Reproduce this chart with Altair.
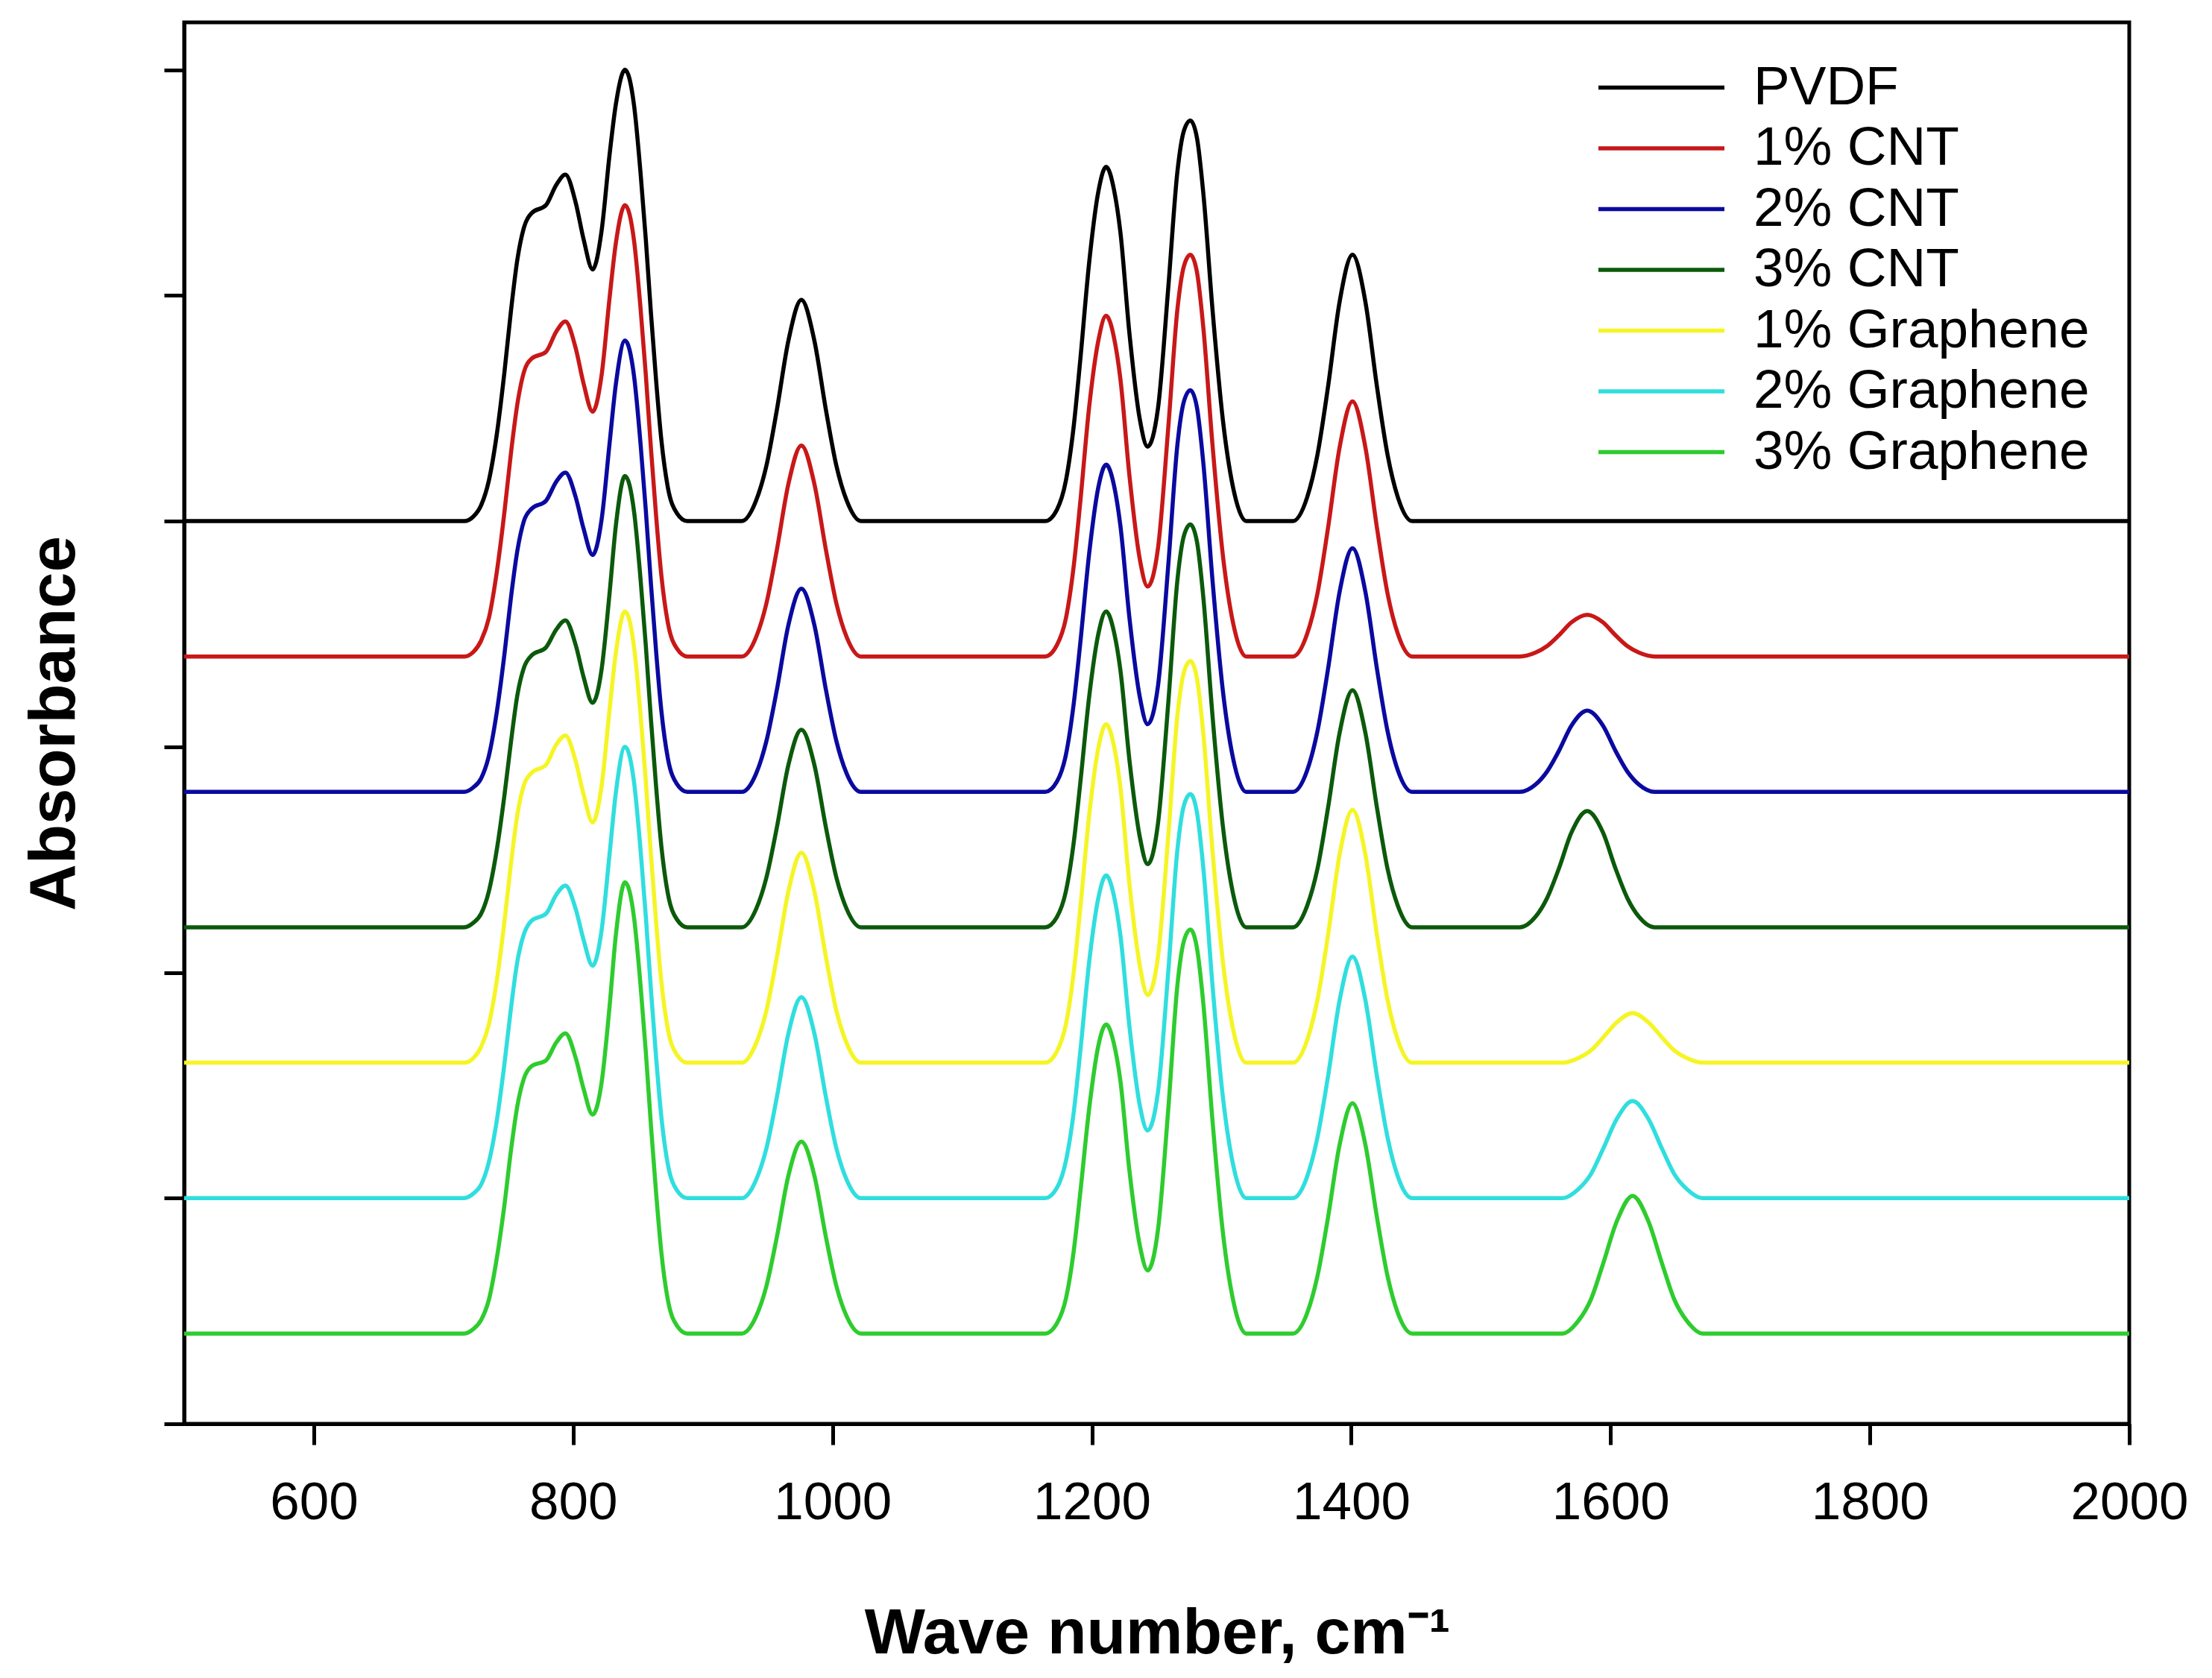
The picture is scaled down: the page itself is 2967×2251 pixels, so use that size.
import altair as alt
import pandas as pd

# ---- series definition ----
SERIES = ["PVDF", "1% CNT", "2% CNT", "3% CNT", "1% Graphene", "2% Graphene", "3% Graphene"]
COLORS = ["#000000", "#c81818", "#0a0aa0", "#0b5a0b", "#f5f526", "#30dede", "#2ecc2e"]
OFFSETS = [4.0, 3.4, 2.8, 2.2, 1.6, 1.0, 0.4]          # vertical stacking offsets
EXTRA_KIND = [None, "cnt", "cnt", "cnt", "g", "g", "g"]

# ---- wavenumber grids (cm-1) of read points ----
GRID_COMPLEX = [716, 723, 729, 735, 741, 747, 752, 757, 762, 768, 779, 787, 794, 802, 808,
                815, 822, 828, 833, 840, 847, 852, 856, 860, 864, 868, 873, 880, 888]
GRID_975 = [930, 941, 949, 957, 966, 976, 986, 995, 1003, 1011, 1022]
GRID_PAIR = [1164, 1173, 1180, 1186, 1191, 1198, 1205, 1211, 1217, 1222, 1229, 1237, 1243,
             1251, 1259, 1266, 1271, 1276, 1281, 1286, 1293, 1301, 1310, 1319]
GRID_1400 = [1355, 1366, 1374, 1382, 1391, 1401, 1411, 1420, 1428, 1436, 1447]
GRID_CNT = [1530, 1542, 1551, 1560, 1570, 1582, 1594, 1604, 1613, 1622, 1634]
GRID_G = [1563, 1575, 1585, 1594, 1605, 1617, 1629, 1640, 1649, 1659, 1671]

# ---- absorbance above each baseline ----
RIGHT840 = [2.0, 1.84, 1.54, 1.25, .92, .62, .36, .15, .035, 0]
COMPLEX_H = [
    [0, .02, .07, .18, .38, .66, .93, 1.16, 1.30, 1.365, 1.40, 1.49, 1.535, 1.41, 1.25, 1.115, 1.29, 1.62, 1.85] + RIGHT840,
    [0, .02, .07, .17, .37, .64, .90, 1.12, 1.26, 1.32, 1.35, 1.44, 1.485, 1.365, 1.21, 1.085, 1.25, 1.585, 1.835] + RIGHT840,
    [0, .02, .06, .16, .35, .61, .86, 1.07, 1.20, 1.255, 1.29, 1.375, 1.415, 1.305, 1.167, 1.05, 1.21, 1.54, 1.81] + RIGHT840,
    [0, .02, .06, .16, .34, .585, .82, 1.03, 1.15, 1.205, 1.24, 1.32, 1.36, 1.25, 1.11, .995, 1.146, 1.476, 1.784] + RIGHT840,
    [0, .02, .07, .17, .36, .625, .88, 1.10, 1.23, 1.285, 1.32, 1.41, 1.45, 1.335, 1.19, 1.065, 1.23, 1.56, 1.82] + RIGHT840,
    [0, .02, .06, .16, .34, .595, .84, 1.05, 1.17, 1.23, 1.26, 1.345, 1.385, 1.28, 1.145, 1.03, 1.19, 1.52, 1.80] + RIGHT840,
    [0, .02, .06, .15, .33, .57, .81, 1.01, 1.13, 1.185, 1.21, 1.29, 1.33, 1.22, 1.085, .97, 1.115, 1.445, 1.77] + RIGHT840,
]
B975_H = [
    [0, .09, .245, .49, .80, .98, .80, .49, .245, .09, 0],
    [0, .085, .235, .47, .765, .935, .765, .47, .235, .085, 0],
    [0, .08, .225, .45, .74, .90, .74, .45, .225, .08, 0],
    [0, .08, .22, .44, .72, .875, .72, .44, .22, .08, 0],
    [0, .085, .23, .465, .76, .93, .76, .465, .23, .085, 0],
    [0, .08, .22, .445, .73, .89, .73, .445, .22, .08, 0],
    [0, .075, .21, .425, .70, .85, .70, .425, .21, .075, 0],
]
PAIR_H = [
    [0, .05, .18, .42, .71, 1.15, 1.46, 1.57, 1.47, 1.28, .83, .45, .33, .50, 1.04, 1.55, 1.73, 1.775, 1.70, 1.45, .94, .45, .12, 0],
    [0, .05, .17, .40, .68, 1.11, 1.40, 1.51, 1.415, 1.23, .80, .43, .31, .48, 1.02, 1.54, 1.73, 1.78, 1.705, 1.455, .94, .45, .12, 0],
    [0, .045, .165, .39, .655, 1.06, 1.35, 1.45, 1.36, 1.18, .77, .42, .30, .47, 1.01, 1.54, 1.73, 1.78, 1.705, 1.455, .94, .45, .12, 0],
    [0, .045, .16, .375, .635, 1.025, 1.30, 1.40, 1.31, 1.14, .74, .40, .28, .46, 1.00, 1.54, 1.735, 1.785, 1.71, 1.46, .94, .45, .12, 0],
    [0, .05, .17, .40, .68, 1.10, 1.395, 1.50, 1.405, 1.22, .79, .43, .30, .47, 1.01, 1.54, 1.73, 1.78, 1.705, 1.455, .94, .45, .12, 0],
    [0, .045, .165, .38, .645, 1.05, 1.33, 1.43, 1.34, 1.165, .76, .41, .30, .47, 1.01, 1.545, 1.74, 1.79, 1.71, 1.46, .945, .45, .12, 0],
    [0, .045, .155, .365, .62, 1.0, 1.275, 1.37, 1.285, 1.12, .72, .39, .28, .46, 1.00, 1.545, 1.74, 1.79, 1.71, 1.46, .945, .45, .12, 0],
]
B1400_H = [
    [0, .105, .295, .59, .97, 1.18, .97, .59, .295, .105, 0],
    [0, .10, .28, .565, .925, 1.13, .925, .565, .28, .10, 0],
    [0, .095, .27, .54, .885, 1.08, .885, .54, .27, .095, 0],
    [0, .095, .26, .525, .86, 1.05, .86, .525, .26, .095, 0],
    [0, .10, .28, .56, .92, 1.12, .92, .56, .28, .10, 0],
    [0, .095, .27, .535, .875, 1.07, .875, .535, .27, .095, 0],
    [0, .09, .255, .51, .835, 1.02, .835, .51, .255, .09, 0],
]
EXTRA_H = [
    None,
    [0, .017, .046, .093, .152, .185, .152, .093, .046, .017, 0],
    [0, .032, .09, .18, .295, .36, .295, .18, .09, .032, 0],
    [0, .046, .129, .258, .422, .515, .422, .258, .129, .046, 0],
    [0, .02, .055, .11, .18, .22, .18, .11, .055, .02, 0],
    [0, .039, .108, .215, .353, .43, .353, .215, .108, .039, 0],
    [0, .055, .153, .305, .50, .61, .50, .305, .153, .055, 0],
]

X_TICKS = [600, 800, 1000, 1200, 1400, 1600, 1800, 2000]
Y_TICKS = [0, 1, 2, 3, 4, 5, 6]

rows = []
for i, name in enumerate(SERIES):
    wn = [500] + GRID_COMPLEX + GRID_975 + GRID_PAIR + GRID_1400
    h = [0] + COMPLEX_H[i] + B975_H[i] + PAIR_H[i] + B1400_H[i]
    if EXTRA_KIND[i] == "cnt":
        wn += GRID_CNT
        h += EXTRA_H[i]
    elif EXTRA_KIND[i] == "g":
        wn += GRID_G
        h += EXTRA_H[i]
    wn += [2000]
    h += [0]
    for w, v in zip(wn, h):
        rows.append({"series": name, "wn": w, "absorbance": OFFSETS[i] + v})

df = pd.DataFrame(rows)

FONT = "Liberation Sans"

chart = alt.Chart(df).mark_line(strokeWidth=5.5, interpolate="monotone").encode(
    x=alt.X("wn:Q",
            scale=alt.Scale(domain=[500, 2000], nice=False, zero=False),
            axis=alt.Axis(values=X_TICKS, format="d", title="Wave number, cm\u207b\u00b9", grid=False,
                          tickSize=28, tickWidth=5, tickColor="black",
                          domainWidth=5, domainColor="black",
                          labelFont=FONT, labelFontSize=71, labelColor="black",
                          labelBaseline="alphabetic", labelPadding=99,
                          labelFlush=False, labelOverlap=False, labelBound=False,
                          titleFont=FONT, titleFontSize=86, titleFontWeight="bold",
                          titleColor="black", titleBaseline="alphabetic",
                          titleX=1305, titleY=307)),
    y=alt.Y("absorbance:Q",
            scale=alt.Scale(domain=[0, 6.21], nice=False, zero=False),
            axis=alt.Axis(values=Y_TICKS, labels=False, title="Absorbance", grid=False,
                          tickSize=27, tickWidth=5, tickColor="black",
                          domainWidth=5, domainColor="black",
                          titleFont=FONT, titleFontSize=87, titleFontWeight="bold",
                          titleColor="black", titleAngle=270, titleBaseline="middle",
                          titleAlign="center", titleX=-174, titleY=940)),
    color=alt.Color("series:N",
                    scale=alt.Scale(domain=SERIES, range=COLORS),
                    sort=SERIES,
                    legend=alt.Legend(orient="none", legendX=1945, legendY=51, title=None,
                                      symbolType="M-4,0L4,0", symbolSize=1785,
                                      symbolStrokeWidth=5.5, labelFont=FONT,
                                      labelFontSize=73, labelColor="black",
                                      labelOffset=87, rowPadding=7.5, labelLimit=1000,
                                      padding=0)),
    order=alt.Order("wn:Q"),
).properties(
    width=2609,
    height=1880,
    padding={"left": 239, "top": 22, "right": 103, "bottom": 333},
    autosize=alt.AutoSizeParams(type="none"),
    background="white",
).configure_view(stroke="black", strokeWidth=5)

chart.save("out.html", embed_options={"renderer": "svg", "actions": False})
